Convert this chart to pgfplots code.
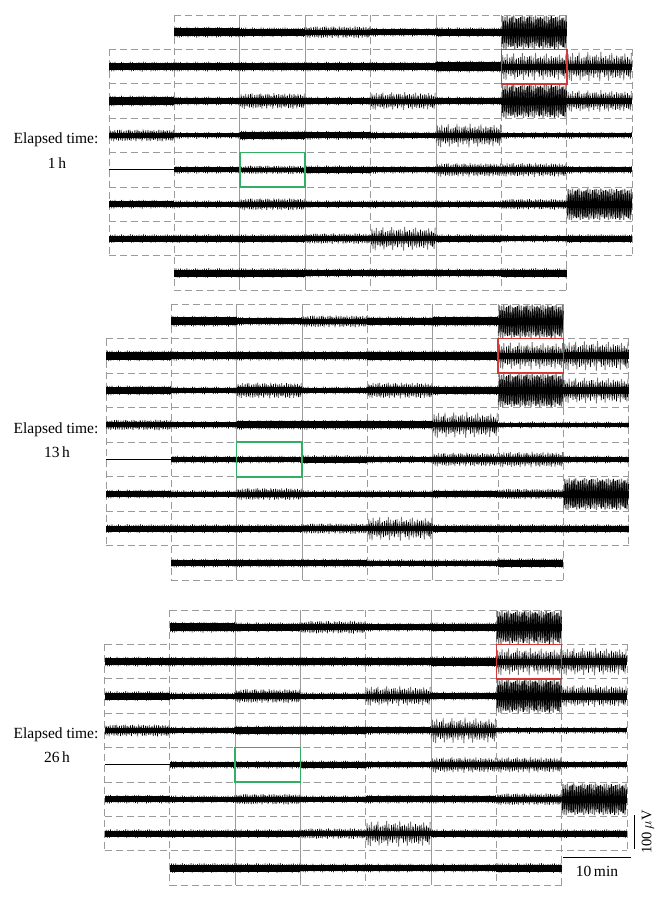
\documentclass[border=0pt]{standalone}
\usepackage{fontspec}
\setmainfont{Liberation Serif}
\usepackage{pgfplots}
\pgfplotsset{compat=1.18}
\usepackage{pgfplotstable}
\definecolor{gridc}{RGB}{155,155,155}
\definecolor{spk}{RGB}{115,115,115}
\definecolor{grn}{RGB}{50,175,100}
\definecolor{rd}{RGB}{214,55,55}
\pgfplotstableread{
a b
0.62 0.44
0.35 0.81
0.88 0.29
0.41 0.67
0.97 0.36
0.28 0.90
0.55 0.51
0.73 0.26
0.31 0.76
0.84 0.39
0.46 0.63
0.22 0.94
0.91 0.33
0.58 0.48
0.37 0.85
0.69 0.22
0.25 0.70
0.80 0.41
0.52 0.58
0.43 0.96
0.95 0.31
0.33 0.74
0.61 0.45
0.77 0.27
0.29 0.88
0.86 0.53
0.48 0.35
0.39 0.79
0.71 0.24
0.24 0.65
0.99 0.42
0.54 0.98
0.36 0.30
0.66 0.57
0.45 0.83
0.82 0.37
0.27 0.68
0.59 0.46
0.93 0.21
0.38 0.78
0.64 0.55
0.21 0.92
0.75 0.34
0.50 0.61
0.32 0.87
0.89 0.28
0.42 0.73
0.68 0.40
0.26 0.95
0.79 0.49
0.57 0.25
0.34 0.69
0.92 0.43
0.47 0.86
0.23 0.60
0.72 0.32
0.60 0.77
0.40 0.52
0.85 0.38
0.30 0.91
}\pat
% zigzag trace: #1 x0, #2 x1, #3 y, #4 up-amplitude, #5 down-amplitude, #6 colour, #7 width, #8 offset
\newcommand\zz[8]{%
\addplot[forget plot, draw=#6, line width=#7, line join=bevel, mark=none]
  table[x expr={#1+(\coordindex+#8)*(#2-#1)/60},
        y expr={#3+0.5*(1+cos(180*\coordindex))*(#4)-0.5*(1-cos(180*\coordindex))*(#5)}] {\pat};}
\newcommand\band[4]{\addplot[forget plot, black, line width={#4}, line cap=butt] coordinates {(#1,#3) (#2,#3)};}
% quiet cell: x0 x1 y k
\newcommand\cq[4]{%
\zz{#1}{#2}{#3}{#4/2-0.4+1.8*\thisrow{a}}{#4/2-0.4+1.8*\thisrow{b}}{black}{0.5pt}{0.5}%
\band{#1}{#2}{#3}{#4pt}}
% noisy cell: x0 x1 y k s
\newcommand\cn[5]{%
\zz{#1}{#2}{#3}{#5*\thisrow{a}}{#5*\thisrow{b}}{spk}{0.8pt}{0.25}%
\zz{#1}{#2}{#3}{#4/2+0.6*#5*\thisrow{b}}{#4/2+0.6*#5*\thisrow{a}}{black}{0.6pt}{0.75}%
\band{#1}{#2}{#3}{#4pt}}
% heavy cell
\newcommand\ch[5]{%
\zz{#1}{#2}{#3}{#5*(0.7+0.3*\thisrow{a})}{#5*(0.7+0.3*\thisrow{b})}{spk}{1.2pt}{0.25}%
\zz{#1}{#2}{#3}{#5*(0.45+0.55*\thisrow{b})}{#5*(0.45+0.55*\thisrow{a})}{black}{1pt}{0.75}%
\band{#1}{#2}{#3}{#4pt}}
% flat line
\newcommand\cl[3]{\band{#1}{#2}{#3}{1.3pt}}
\pgfplotsset{page/.style={width=667pt, height=903pt, scale only axis,
  xmin=0, xmax=667, ymin=0, ymax=903, y dir=reverse,
  axis lines=none, ticks=none, clip=false, at={(0,0)}, anchor=south west},
  dgrid/.style={forget plot, gridc, line width=0.8pt, dash pattern=on 7pt off 4pt, unbounded coords=jump},
  sgrid/.style={forget plot, gridc, line width=0.8pt, unbounded coords=jump}}
\tikzset{lab/.style={font=\fontsize{15.5}{18}\selectfont}}
\begin{document}
\begin{tikzpicture}
% ================= panel 1 =================
\begin{axis}[page]
\path (rel axis cs:0,0) rectangle (rel axis cs:1,1);
\addplot[dgrid] coordinates {
(174.4,15) (566.8,15) (nan,nan) (109,49.4) (632.2,49.4) (nan,nan) (109,83.8) (632.2,83.8) (nan,nan)
(109,118.2) (632.2,118.2) (nan,nan) (109,152.6) (632.2,152.6) (nan,nan) (109,187) (632.2,187) (nan,nan)
(109,221.4) (632.2,221.4) (nan,nan) (109,255.8) (632.2,255.8) (nan,nan) (174.4,290.2) (566.8,290.2) (nan,nan)
(109,49.4) (109,255.8) (nan,nan) (632.2,49.4) (632.2,255.8) (nan,nan) (174.4,15) (174.4,290.2) (nan,nan)
(370.6,15) (370.6,290.2) (nan,nan) (501.4,15) (501.4,290.2) (nan,nan) (566.8,118.2) (566.8,290.2)};
\addplot[sgrid] coordinates {
(239.8,15) (239.8,290.2) (nan,nan) (305.2,15) (305.2,290.2) (nan,nan) (436,15) (436,290.2) (nan,nan) (566.8,15) (566.8,118.2)};
\cq{174.4}{239.8}{32.2}{8}
\cq{239.8}{305.2}{32.2}{7}
\cn{305.2}{370.6}{32.2}{5}{6}
\cq{370.6}{436}{32.2}{6}
\cq{436}{501.4}{32.2}{7}
\ch{501.4}{566.8}{32.2}{7}{17}
\cq{109}{174.4}{66.6}{7}
\cq{174.4}{239.8}{66.6}{7}
\cq{239.8}{305.2}{66.6}{7}
\cq{305.2}{370.6}{66.6}{7}
\cq{370.6}{436}{66.6}{7}
\cq{436}{501.4}{66.6}{9}
\cn{501.4}{566.8}{66.6}{6}{14}
\cn{566.8}{632.2}{66.6}{6}{15}
\cq{109}{174.4}{101}{8}
\cq{174.4}{239.8}{101}{6}
\cn{239.8}{305.2}{101}{6}{8}
\cq{305.2}{370.6}{101}{6}
\cn{370.6}{436}{101}{5}{9}
\cq{436}{501.4}{101}{6}
\ch{501.4}{566.8}{101}{7}{17}
\cn{566.8}{632.2}{101}{6}{11}
\cn{109}{174.4}{135.4}{5}{6}
\cq{174.4}{239.8}{135.4}{4}
\cq{239.8}{305.2}{135.4}{7}
\cq{305.2}{370.6}{135.4}{6}
\cq{370.6}{436}{135.4}{5}
\cn{436}{501.4}{135.4}{5}{12}
\cq{501.4}{566.8}{135.4}{4}
\cq{566.8}{632.2}{135.4}{4}
\cl{109}{174.4}{169.8}
\cq{174.4}{239.8}{169.8}{5}
\cn{239.8}{305.2}{169.8}{4}{4}
\cq{305.2}{370.6}{169.8}{6}
\cq{370.6}{436}{169.8}{5}
\cn{436}{501.4}{169.8}{5}{7}
\cn{501.4}{566.8}{169.8}{5}{7}
\cq{566.8}{632.2}{169.8}{5}
\cq{109}{174.4}{204.2}{6}
\cq{174.4}{239.8}{204.2}{5}
\cn{239.8}{305.2}{204.2}{5}{6}
\cq{305.2}{370.6}{204.2}{5}
\cq{370.6}{436}{204.2}{5}
\cq{436}{501.4}{204.2}{5}
\cn{501.4}{566.8}{204.2}{5}{5}
\ch{566.8}{632.2}{204.2}{7}{16}
\cq{109}{174.4}{238.6}{6}
\cq{174.4}{239.8}{238.6}{6}
\cq{239.8}{305.2}{238.6}{6}
\cn{305.2}{370.6}{238.6}{5}{5}
\cn{370.6}{436}{238.6}{5}{12}
\cq{436}{501.4}{238.6}{6}
\cq{501.4}{566.8}{238.6}{5}
\cq{566.8}{632.2}{238.6}{6}
\cq{174.4}{239.8}{273}{7}
\cq{239.8}{305.2}{273}{7}
\cq{305.2}{370.6}{273}{6}
\cq{370.6}{436}{273}{6}
\cq{436}{501.4}{273}{6}
\cq{501.4}{566.8}{273}{7}
\node[lab] at (axis cs:56,140) {Elapsed time:};
\node[lab] at (axis cs:57,163) {1\,h};
\end{axis}
% ================= panel 2 =================
\begin{axis}[page]
\addplot[dgrid] coordinates {
(171.35,304) (563.45,304) (nan,nan) (106,338.55) (628.8,338.55) (nan,nan) (106,373.1) (628.8,373.1) (nan,nan)
(106,407.65) (628.8,407.65) (nan,nan) (106,442.2) (628.8,442.2) (nan,nan) (106,476.75) (628.8,476.75) (nan,nan)
(106,511.3) (628.8,511.3) (nan,nan) (106,545.85) (628.8,545.85) (nan,nan) (171.35,580.4) (563.45,580.4) (nan,nan)
(106,338.55) (106,545.85) (nan,nan) (628.8,338.55) (628.8,545.85) (nan,nan) (171.35,304) (171.35,580.4) (nan,nan)
(367.4,304) (367.4,580.4) (nan,nan) (498.1,304) (498.1,580.4) (nan,nan) (563.45,407.65) (563.45,580.4)};
\addplot[sgrid] coordinates {
(236.7,304) (236.7,580.4) (nan,nan) (302.05,304) (302.05,580.4) (nan,nan) (432.75,304) (432.75,580.4) (nan,nan) (563.45,304) (563.45,407.65)};
\cq{171.35}{236.7}{321.3}{8}
\cq{236.7}{302.05}{321.3}{6}
\cn{302.05}{367.4}{321.3}{5}{6}
\cq{367.4}{432.75}{321.3}{7}
\cq{432.75}{498.1}{321.3}{8}
\ch{498.1}{563.45}{321.3}{7}{17}
\cq{106}{171.35}{355.8}{8}
\cq{171.35}{236.7}{355.8}{7}
\cq{236.7}{302.05}{355.8}{7}
\cq{302.05}{367.4}{355.8}{7}
\cq{367.4}{432.75}{355.8}{8}
\cq{432.75}{498.1}{355.8}{8}
\cn{498.1}{563.45}{355.8}{6}{14}
\cn{563.45}{628.8}{355.8}{7}{15}
\cq{106}{171.35}{390.4}{7}
\cq{171.35}{236.7}{390.4}{5}
\cn{236.7}{302.05}{390.4}{6}{8}
\cq{302.05}{367.4}{390.4}{5}
\cn{367.4}{432.75}{390.4}{6}{8}
\cq{432.75}{498.1}{390.4}{7}
\ch{498.1}{563.45}{390.4}{7}{17}
\cn{563.45}{628.8}{390.4}{7}{13}
\cn{106}{171.35}{424.9}{5}{5}
\cq{171.35}{236.7}{424.9}{5}
\cq{236.7}{302.05}{424.9}{7}
\cq{302.05}{367.4}{424.9}{7}
\cq{367.4}{432.75}{424.9}{7}
\cn{432.75}{498.1}{424.9}{5}{13}
\cq{498.1}{563.45}{424.9}{4}
\cq{563.45}{628.8}{424.9}{4}
\cl{106}{171.35}{459.5}
\cq{171.35}{236.7}{459.5}{5}
\cq{236.7}{302.05}{459.5}{5}
\cq{302.05}{367.4}{459.5}{6}
\cq{367.4}{432.75}{459.5}{5}
\cn{432.75}{498.1}{459.5}{5}{7}
\cn{498.1}{563.45}{459.5}{5}{8}
\cq{563.45}{628.8}{459.5}{5}
\cq{106}{171.35}{494}{6}
\cq{171.35}{236.7}{494}{5}
\cn{236.7}{302.05}{494}{5}{6}
\cq{302.05}{367.4}{494}{5}
\cq{367.4}{432.75}{494}{5}
\cq{432.75}{498.1}{494}{6}
\cn{498.1}{563.45}{494}{5}{5}
\ch{563.45}{628.8}{494}{7}{16}
\cq{106}{171.35}{528.6}{6}
\cq{171.35}{236.7}{528.6}{6}
\cq{236.7}{302.05}{528.6}{6}
\cn{302.05}{367.4}{528.6}{5}{5}
\cn{367.4}{432.75}{528.6}{5}{12}
\cq{432.75}{498.1}{528.6}{6}
\cq{498.1}{563.45}{528.6}{6}
\cq{563.45}{628.8}{528.6}{6}
\cq{171.35}{236.7}{563.1}{6}
\cq{236.7}{302.05}{563.1}{6}
\cq{302.05}{367.4}{563.1}{6}
\cq{367.4}{432.75}{563.1}{5}
\cq{432.75}{498.1}{563.1}{5}
\cq{498.1}{563.45}{563.1}{7}
\node[lab] at (axis cs:56,430) {Elapsed time:};
\node[lab] at (axis cs:57,452) {13\,h};
\end{axis}
% ================= panel 3 =================
\begin{axis}[page]
\addplot[dgrid] coordinates {
(169.8,610) (561.6,610) (nan,nan) (104.5,644.4) (626.9,644.4) (nan,nan) (104.5,678.8) (626.9,678.8) (nan,nan)
(104.5,713.2) (626.9,713.2) (nan,nan) (104.5,747.6) (626.9,747.6) (nan,nan) (104.5,782) (626.9,782) (nan,nan)
(104.5,816.4) (626.9,816.4) (nan,nan) (104.5,850.8) (626.9,850.8) (nan,nan) (169.8,885.2) (561.6,885.2) (nan,nan)
(104.5,644.4) (104.5,850.8) (nan,nan) (626.9,644.4) (626.9,850.8) (nan,nan) (169.8,610) (169.8,885.2) (nan,nan)
(365.7,610) (365.7,885.2) (nan,nan) (496.3,610) (496.3,885.2) (nan,nan) (561.6,713.2) (561.6,885.2)};
\addplot[sgrid] coordinates {
(235.1,610) (235.1,885.2) (nan,nan) (300.4,610) (300.4,885.2) (nan,nan) (431,610) (431,885.2) (nan,nan) (561.6,610) (561.6,713.2)};
\cq{169.8}{235.1}{627.2}{8}
\cq{235.1}{300.4}{627.2}{7}
\cn{300.4}{365.7}{627.2}{6}{6}
\cq{365.7}{431}{627.2}{6}
\cq{431}{496.3}{627.2}{7}
\ch{496.3}{561.6}{627.2}{7}{17}
\cq{104.5}{169.8}{661.6}{7}
\cq{169.8}{235.1}{661.6}{7}
\cq{235.1}{300.4}{661.6}{7}
\cq{300.4}{365.7}{661.6}{7}
\cq{365.7}{431}{661.6}{7}
\cq{431}{496.3}{661.6}{8}
\cn{496.3}{561.6}{661.6}{6}{14}
\cn{561.6}{626.9}{661.6}{7}{14}
\cq{104.5}{169.8}{696}{7}
\cq{169.8}{235.1}{696}{5}
\cn{235.1}{300.4}{696}{6}{7}
\cq{300.4}{365.7}{696}{5}
\cn{365.7}{431}{696}{5}{10}
\cq{431}{496.3}{696}{6}
\ch{496.3}{561.6}{696}{7}{17}
\cn{561.6}{626.9}{696}{7}{11}
\cn{104.5}{169.8}{730.4}{5}{6}
\cq{169.8}{235.1}{730.4}{5}
\cq{235.1}{300.4}{730.4}{7}
\cq{300.4}{365.7}{730.4}{7}
\cq{365.7}{431}{730.4}{6}
\cn{431}{496.3}{730.4}{5}{13}
\cq{496.3}{561.6}{730.4}{4}
\cq{561.6}{626.9}{730.4}{4}
\cl{104.5}{169.8}{764.8}
\cq{169.8}{235.1}{764.8}{5}
\cq{235.1}{300.4}{764.8}{5}
\cq{300.4}{365.7}{764.8}{6}
\cq{365.7}{431}{764.8}{5}
\cn{431}{496.3}{764.8}{5}{8}
\cn{496.3}{561.6}{764.8}{5}{8}
\cq{561.6}{626.9}{764.8}{5}
\cq{104.5}{169.8}{799.2}{6}
\cq{169.8}{235.1}{799.2}{5}
\cn{235.1}{300.4}{799.2}{5}{5}
\cq{300.4}{365.7}{799.2}{5}
\cq{365.7}{431}{799.2}{6}
\cq{431}{496.3}{799.2}{6}
\cn{496.3}{561.6}{799.2}{5}{6}
\ch{561.6}{626.9}{799.2}{7}{16}
\cq{104.5}{169.8}{833.6}{6}
\cq{169.8}{235.1}{833.6}{6}
\cq{235.1}{300.4}{833.6}{6}
\cn{300.4}{365.7}{833.6}{5}{5}
\cn{365.7}{431}{833.6}{5}{13}
\cq{431}{496.3}{833.6}{6}
\cq{496.3}{561.6}{833.6}{6}
\cq{561.6}{626.9}{833.6}{6}
\cq{169.8}{235.1}{868}{7}
\cq{235.1}{300.4}{868}{7}
\cq{300.4}{365.7}{868}{6}
\cq{365.7}{431}{868}{6}
\cq{431}{496.3}{868}{6}
\cq{496.3}{561.6}{868}{7}
\addplot[forget plot, black, line width=0.9pt] coordinates {(563,857) (631,857)};
\addplot[forget plot, black, line width=0.9pt] coordinates {(634,815) (634,849)};
\node[lab] at (axis cs:597,871) {10\,min};
\node[font=\fontsize{14.5}{17}\selectfont, rotate=90] at (axis cs:648,832) {100\,$\mu$V};
\node[lab] at (axis cs:56,735) {Elapsed time:};
\node[lab] at (axis cs:57,757) {26\,h};
\end{axis}
% ================= highlight boxes, drawn last =================
\begin{axis}[page]
\addplot[forget plot, rd, line width=1.5pt, line join=miter] coordinates {(501.4,49.4) (566.8,49.4) (566.8,83.8) (501.4,83.8) (501.4,49.4) (566.8,49.4)};
\addplot[forget plot, grn, line width=1.5pt, line join=miter] coordinates {(239.8,152.6) (305.2,152.6) (305.2,187) (239.8,187) (239.8,152.6) (305.2,152.6)};
\addplot[forget plot, rd, line width=1.5pt, line join=miter] coordinates {(498.1,338.55) (563.45,338.55) (563.45,373.1) (498.1,373.1) (498.1,338.55) (563.45,338.55)};
\addplot[forget plot, grn, line width=1.5pt, line join=miter] coordinates {(236.7,442.2) (302.05,442.2) (302.05,476.75) (236.7,476.75) (236.7,442.2) (302.05,442.2)};
\addplot[forget plot, rd, line width=1.5pt, line join=miter] coordinates {(496.3,644.4) (561.6,644.4) (561.6,678.8) (496.3,678.8) (496.3,644.4) (561.6,644.4)};
\addplot[forget plot, grn, line width=1.5pt, line join=miter] coordinates {(235.1,747.6) (300.4,747.6) (300.4,782) (235.1,782) (235.1,747.6) (300.4,747.6)};
\end{axis}
\end{tikzpicture}
\end{document}
